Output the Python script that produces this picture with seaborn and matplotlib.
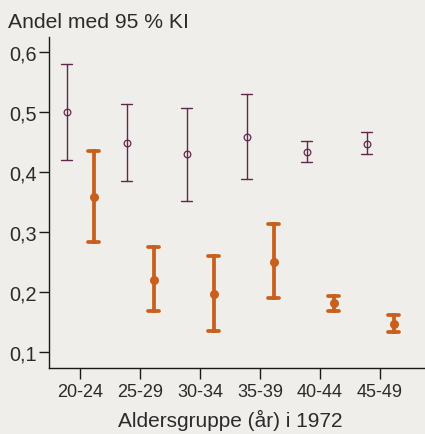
import numpy as np
import pandas as pd
import matplotlib
matplotlib.use("Agg")
import matplotlib.pyplot as plt
from matplotlib.ticker import FuncFormatter
from matplotlib.colors import to_hex
import seaborn as sns

# data (share with 95 % CI)
ages = ["20-24", "25-29", "30-34", "35-39", "40-44", "45-49"]
groups = ["gruppe1", "gruppe2"]
g1_est = [0.500, 0.449, 0.430, 0.459, 0.434, 0.447]
g1_lo = [0.420, 0.385, 0.352, 0.388, 0.417, 0.430]
g1_hi = [0.580, 0.513, 0.507, 0.530, 0.452, 0.466]
g2_est = [0.359, 0.220, 0.197, 0.250, 0.181, 0.147]
g2_lo = [0.283, 0.168, 0.135, 0.190, 0.168, 0.133]
g2_hi = [0.435, 0.275, 0.260, 0.313, 0.194, 0.161]

BG = "#f0eeea"
MAROON = "#62284c"
ORANGE = "#c85f1c"
TXT = "#2b2b2b"

rows = []
for grp, est, lo, hi in [(groups[0], g1_est, g1_lo, g1_hi), (groups[1], g2_est, g2_lo, g2_hi)]:
    for a, e, l, h in zip(ages, est, lo, hi):
        for v in (l, e, h):
            rows.append({"age": a, "group": grp, "value": v})
df = pd.DataFrame(rows)

sns.set_style("ticks", {"axes.facecolor": BG, "figure.facecolor": BG})
plt.rcParams["font.family"] = ["Liberation Sans", "DejaVu Sans"]

fig = plt.figure(figsize=(4.25, 4.35), dpi=100)
ax = fig.add_axes([49 / 425, 1 - 369 / 435, 1 - 49 / 425, (369 - 38) / 435])

sns.pointplot(data=df, x="age", y="value", hue="group", order=ages, hue_order=groups,
              estimator="median", errorbar=lambda v: (v.min(), v.max()),
              dodge=0.45, linestyle="none", markers=["o", "o"],
              palette=[MAROON, ORANGE], capsize=0.19, legend=False, ax=ax)

# per-series styling: thin open markers vs thick filled markers
for line in ax.lines:
    col = to_hex(line.get_color())
    if col == to_hex(MAROON):
        line.set_linewidth(1.0)
        if line.get_marker() == "o":
            line.set_markerfacecolor(BG)
            line.set_markeredgewidth(0.9)
            line.set_markersize(4.8)
    else:
        line.set_linewidth(2.7)
        if line.get_marker() == "o":
            line.set_markeredgewidth(0)
            line.set_markersize(6.5)

ax.set_xlim(-0.517, 5.75)
ax.set_ylim(0.0733, 0.625)
ax.set_yticks([0.1, 0.2, 0.3, 0.4, 0.5, 0.6])
ax.yaxis.set_major_formatter(FuncFormatter(lambda v, p: f"{v:.1f}".replace(".", ",")))
ax.set_xlabel(None)
ax.set_ylabel(None)

sns.despine(ax=ax)
for s in ["left", "bottom"]:
    ax.spines[s].set_color("#1a1a1a")
    ax.spines[s].set_linewidth(1.0)
ax.tick_params(axis="y", length=7, width=1.0, pad=2, labelsize=14.3, colors="#1a1a1a", labelcolor=TXT)
ax.tick_params(axis="x", length=8, width=1.0, pad=2.5, labelsize=13, colors="#1a1a1a", labelcolor=TXT)

fig.text(8 / 425, 1 - 28 / 435, "Andel med 95 % KI", fontsize=15.2, color=TXT,
         ha="left", va="baseline")
fig.text(230 / 425, 1 - 427 / 435, "Aldersgruppe (år) i 1972", fontsize=15, color=TXT,
         ha="center", va="baseline")

fig.savefig("out.png", dpi=100, facecolor=BG)
